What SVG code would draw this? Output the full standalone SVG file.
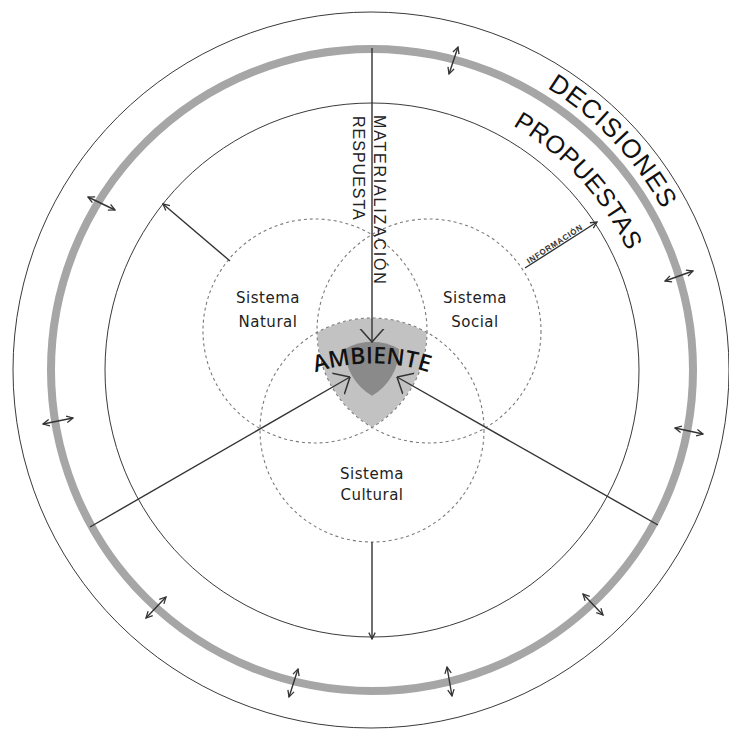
<svg xmlns="http://www.w3.org/2000/svg" width="729" height="733" viewBox="0 0 729 733">
<style>
.thin{fill:none;stroke:#3a3a3a;stroke-width:1}
.dash{fill:none;stroke:#7a7a7a;stroke-width:1.1;stroke-dasharray:3 3}
.con{fill:none;stroke:#333;stroke-width:1.4}
.lbl{font-family:"DejaVu Sans",sans-serif;font-size:15px;fill:#222;text-anchor:middle;letter-spacing:0.5px}
.big{font-family:"Liberation Sans",Arial,sans-serif;fill:#111}
.vert{font-family:"Liberation Sans",Arial,sans-serif;font-size:16px;fill:#222}
</style>
<defs>
<marker id="sm" viewBox="0 0 10 10" refX="9" refY="5" markerWidth="8" markerHeight="8" markerUnits="userSpaceOnUse" orient="auto-start-reverse">
<path d="M1,1 L9,5 L1,9" fill="none" stroke="#333" stroke-width="1.6"/>
</marker>
<marker id="bg" viewBox="0 0 14 26" refX="13.5" refY="13" markerWidth="14" markerHeight="26" markerUnits="userSpaceOnUse" orient="auto">
<path d="M0,1 L13.5,13 L0,25" fill="none" stroke="#333" stroke-width="1.5"/>
</marker>
<path id="pDec" d="M 485.5 58.0 A 332 332 0 0 1 689.5 272.9"/>
<path id="pProp" d="M 445.0 97.6 A 282 282 0 0 1 649.7 321.0"/>
<path id="pAmb" d="M 300 378 A 185 185 0 0 1 444 378"/>
</defs>

<g id="outer-circle"><circle class="thin" cx="371" cy="370" r="358"/></g>
<g id="decision-ring"><circle cx="372" cy="370" r="321" fill="none" stroke="#a6a6a6" stroke-width="8"/></g>
<g id="inner-circle"><circle class="thin" cx="372" cy="370" r="267"/></g>

<g id="ambiente">
<path d="M 317.4 332.5 A 112 112 0 0 1 426.6 332.5 A 112 112 0 0 1 372 427 A 112 112 0 0 1 317.4 332.5 Z" fill="#c2c2c2"/>
<path d="M 345 349 A 54 54 0 0 1 399 349 A 54 54 0 0 1 372 395.8 A 54 54 0 0 1 345 349 Z" fill="#8a8a8a"/>
</g>

<g id="sistema-natural">
<circle class="dash" cx="315" cy="331" r="112"/>
<text class="lbl" x="268" y="303">Sistema</text>
<text class="lbl" x="268" y="327">Natural</text>
</g>
<g id="sistema-social">
<circle class="dash" cx="429" cy="331" r="112"/>
<text class="lbl" x="475" y="303">Sistema</text>
<text class="lbl" x="475" y="327">Social</text>
</g>
<g id="sistema-cultural">
<circle class="dash" cx="372" cy="430" r="112"/>
<text class="lbl" x="372" y="479">Sistema</text>
<text class="lbl" x="372" y="500">Cultural</text>
</g>

<g id="connectors">
<line class="con" x1="372" y1="48" x2="372" y2="342" marker-end="url(#bg)"/>
<line class="con" x1="90" y1="527" x2="350" y2="377" marker-end="url(#bg)"/>
<line class="con" x1="658" y1="525" x2="397" y2="377" marker-end="url(#bg)"/>
<line class="con" x1="372" y1="542" x2="372" y2="639" marker-end="url(#sm)"/>
<line class="con" x1="230" y1="261" x2="163" y2="204" marker-end="url(#sm)"/>
<line class="con" x1="525" y1="268" x2="597" y2="222" marker-end="url(#sm)"/>
<line class="con" x1="458" y1="47" x2="449" y2="74" marker-start="url(#sm)" marker-end="url(#sm)"/>
<line class="con" x1="88" y1="197" x2="115" y2="210" marker-start="url(#sm)" marker-end="url(#sm)"/>
<line class="con" x1="43" y1="424" x2="73" y2="418" marker-start="url(#sm)" marker-end="url(#sm)"/>
<line class="con" x1="665" y1="281" x2="693" y2="271" marker-start="url(#sm)" marker-end="url(#sm)"/>
<line class="con" x1="675" y1="428" x2="703" y2="434" marker-start="url(#sm)" marker-end="url(#sm)"/>
<line class="con" x1="146" y1="618" x2="166" y2="597" marker-start="url(#sm)" marker-end="url(#sm)"/>
<line class="con" x1="289" y1="697" x2="298" y2="669" marker-start="url(#sm)" marker-end="url(#sm)"/>
<line class="con" x1="583" y1="594" x2="603" y2="615" marker-start="url(#sm)" marker-end="url(#sm)"/>
<line class="con" x1="447" y1="667" x2="452" y2="696" marker-start="url(#sm)" marker-end="url(#sm)"/>
</g>

<g id="ambiente-label">
<text font-family="'Open Sans',sans-serif" font-weight="600" font-size="23" fill="#111" text-anchor="middle"><textPath href="#pAmb" startOffset="50%">AMBIENTE</textPath></text>
</g>

<g id="decisiones-label">
<text class="big" font-size="26" letter-spacing="1" text-anchor="middle"><textPath href="#pDec" startOffset="50%">DECISIONES</textPath></text>
</g>
<g id="propuestas-label">
<text class="big" font-size="25" letter-spacing="0.4" text-anchor="middle"><textPath href="#pProp" startOffset="50%">PROPUESTAS</textPath></text>
</g>

<g id="materializacion-label">
<text class="vert" letter-spacing="1.8" transform="translate(374,115) rotate(90)">MATERIALIZACIÓN</text>
</g>
<g id="respuesta-label">
<text class="vert" letter-spacing="1" transform="translate(353,116) rotate(90)">RESPUESTA</text>
</g>
<g id="informacion-label">
<text font-family="'Liberation Sans',Arial,sans-serif" font-weight="bold" font-size="8" letter-spacing="0.7" fill="#333" transform="translate(529,264) rotate(-33)">INFORMACIÓN</text>
</g>
</svg>
